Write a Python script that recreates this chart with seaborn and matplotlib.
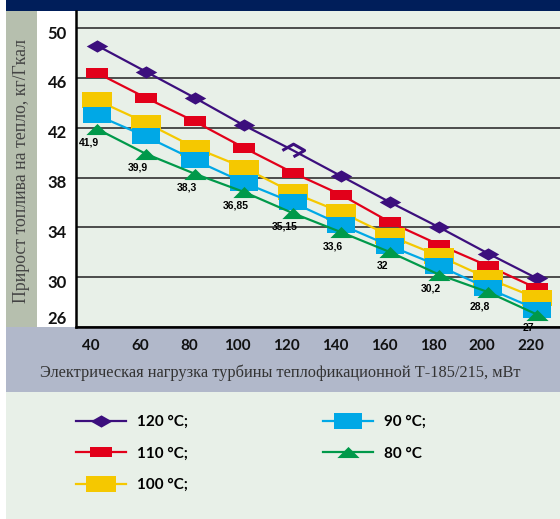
import numpy as np
import pandas as pd
import matplotlib
matplotlib.use("Agg")
import matplotlib.pyplot as plt
import matplotlib.transforms as mtransforms
from matplotlib.patches import Rectangle
import seaborn as sns

# ---------------- data ----------------
loads = [40, 60, 80, 100, 120, 140, 160, 180, 200, 220]
t120 = [48.6, 46.5, 44.4, 42.2, 40.2, 38.1, 36.0, 34.0, 31.9, 29.9]
t110 = [46.4, 44.4, 42.5, 40.4, 38.4, 36.6, 34.4, 32.6, 30.9, 29.1]
t100 = [44.2, 42.4, 40.4, 38.8, 36.8, 35.2, 33.3, 31.7, 29.9, 28.3]
t90 = [43.0, 41.3, 39.4, 37.6, 36.0, 34.2, 32.5, 30.9, 29.1, 27.4]
t80 = [41.9, 39.9, 38.3, 36.85, 35.15, 33.6, 32.0, 30.2, 28.8, 27.0]
t80_labels = ["41,9", "39,9", "38,3", "36,85", "35,15", "33,6", "32", "30,2", "28,8", "27"]
series_names = ["120 °C;", "110 °C;", "100 °C;", "90 °C;", "80 °C"]
y_ticks = [26, 30, 34, 38, 42, 46, 50]
x_ticks = loads
hollow_load = 120
y_title = "Прирост топлива на тепло, кг/Гкал"
x_title = "Электрическая нагрузка турбины теплофикационной Т-185/215, мВт"

# ---------------- styling ----------------
W, H = 560, 519
fig = plt.figure(figsize=(W / 100, H / 100), dpi=100)
fig.patch.set_facecolor("white")

def fx(x):
    return x / W

def fy(y):
    return 1 - y / H

navy = "#001e5a"
strip = "#b6bfae"
band = "#b1b8ca"
plotbg = "#e8f0e8"

# background panels (behind everything)
for (x0, y0, w, h, c) in [(6, 0, 554, 11, navy), (6, 11, 31, 316, strip),
                          (6, 327, 554, 65, band), (6, 392, 554, 127, plotbg)]:
    fig.patches.append(Rectangle((fx(x0), fy(y0 + h)), w / W, h / H, transform=fig.transFigure,
                                 facecolor=c, edgecolor="none", zorder=-5))

ax = fig.add_axes([fx(76), fy(327), fx(484), 316 / H])
ax.set_facecolor(plotbg)
ax.set_zorder(1)

colors = ["#3c0f7d", "#e2001a", "#f5c800", "#00a8e6", "#00994a"]
diamond = np.array([(-1, 0), (0, 0.57), (1, 0), (0, -0.57)])
rect_small = np.array([(-1, -0.5), (1, -0.5), (1, 0.5), (-1, 0.5)])
rect_big = np.array([(-1, -0.55), (1, -0.55), (1, 0.55), (-1, 0.55)])
triangle = np.array([(-1, -0.5), (0, 0.5), (1, -0.5)])
markers = [diamond, rect_small, rect_big, rect_big, triangle]
msizes = [15.5, 15.5, 22, 20, 16]

all_series = [t120, t110, t100, t90, t80]
hollow_idx = loads.index(hollow_load)
for i, (vals, name) in enumerate(zip(all_series, series_names)):
    df = pd.DataFrame({"load": loads, "value": vals})
    kw = {}
    if i == 0:
        kw["markevery"] = [k for k in range(len(loads)) if k != hollow_idx]
    sns.lineplot(data=df, x="load", y="value", ax=ax, color=colors[i], label=name,
                 marker=markers[i], markersize=msizes[i], markeredgewidth=0,
                 linewidth=1.6, zorder=3 + i, **kw)

# hollow diamond for 120 °C at the highlighted load
ax.plot([loads[hollow_idx]], [t120[hollow_idx]], linestyle="none", marker=diamond,
        markersize=16, markerfacecolor="none", markeredgecolor=colors[0],
        markeredgewidth=2.2, zorder=3)

# value labels for 80 °C
for x, y, s in zip(loads, t80, t80_labels):
    ax.annotate(s, (x, y), xytext=(-6, -10), textcoords="offset points",
                ha="center", va="center", fontsize=7.5, fontweight="bold",
                family="Liberation Sans", color="black", zorder=10,
                annotation_clip=False)

ax.set_xlim(31.4, 229.4)
ax.set_ylim(26, 51.37)
ax.set_yticks(y_ticks)
ax.set_xticks(x_ticks)
ax.set_xlabel("")
ax.set_ylabel("")
ax.grid(axis="y", color="#3f3f3f", linewidth=1.3, zorder=1)
ax.grid(axis="x", visible=False)
ax.set_axisbelow(True)
for s in ["top", "right"]:
    ax.spines[s].set_visible(False)
for s in ["left", "bottom"]:
    ax.spines[s].set_color("black")
    ax.spines[s].set_linewidth(1.8)

ax.tick_params(axis="both", length=0)
ax.tick_params(axis="y", pad=6.5)
ax.tick_params(axis="x", pad=9)
for lab in ax.get_yticklabels():
    lab.set_fontfamily("Lato")
    lab.set_fontweight("bold")
    lab.set_fontsize(12)
    lab.set_color("#111111")
for lab in ax.get_xticklabels():
    lab.set_fontfamily("Lato")
    lab.set_fontweight("bold")
    lab.set_fontsize(11)
    lab.set_color("#111111")

# small offsets of tick labels as in the reference
for lab, t in zip(ax.get_yticklabels(), y_ticks):
    dy = 10 if t == y_ticks[0] else -4
    lab.set_transform(lab.get_transform() + mtransforms.ScaledTranslation(0, dy / 100, fig.dpi_scale_trans))
for lab in ax.get_xticklabels():
    lab.set_transform(lab.get_transform() + mtransforms.ScaledTranslation(-6 / 100, 0, fig.dpi_scale_trans))

# axis titles
fig.text(fx(22), fy(171), y_title, rotation=90, ha="center", va="center",
         family="Liberation Serif", fontsize=12.8, color="#444444")
fig.text(fx(280), fy(373), x_title, ha="center", va="center",
         family="Liberation Serif", fontsize=11.8, color="#333333")

# legend
handles, labels = ax.get_legend_handles_labels()
if ax.get_legend() is not None:
    ax.get_legend().remove()
fig.legend(handles, labels, ncol=2, loc="upper left", bbox_to_anchor=(fx(76), fy(415)),
           frameon=False, prop={"family": "Lato", "weight": "bold", "size": 11},
           handlelength=3.3, handletextpad=0.7, labelspacing=1.15, columnspacing=8.8,
           borderaxespad=0, borderpad=0)

fig.savefig("out.png", dpi=100, facecolor=fig.get_facecolor())
